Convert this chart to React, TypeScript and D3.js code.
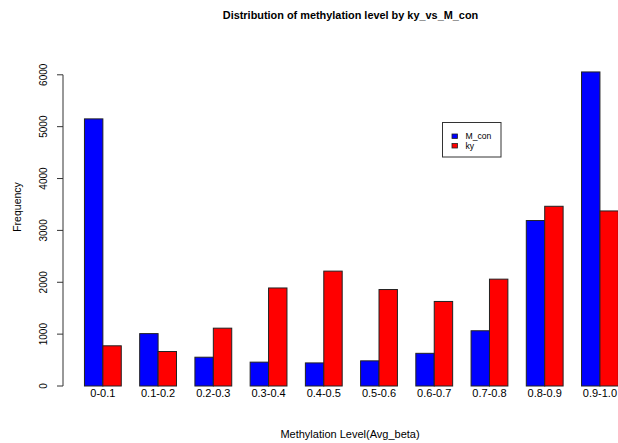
import React from "react";
import * as d3 from "d3";

const categories = ["0-0.1", "0.1-0.2", "0.2-0.3", "0.3-0.4", "0.4-0.5", "0.5-0.6", "0.6-0.7", "0.7-0.8", "0.8-0.9", "0.9-1.0"];
const seriesNames = ["M_con", "ky"];
const mcon = [5150, 1010, 555, 460, 445, 485, 630, 1065, 3190, 6055];
const ky = [775, 665, 1115, 1890, 2215, 1860, 1630, 2060, 3465, 3375];
const yTicks = [0, 1000, 2000, 3000, 4000, 5000, 6000];
const colors = ["#0000FF", "#FF0000"];

const W = 618;
const H = 443;
const FONT = "Liberation Sans, Arial, sans-serif";

export default function App() {
  const x = d3.scaleLinear().domain([-0.16, 31.16]).range([63.1, 639.7]);
  const y = d3.scaleLinear().domain([0, 6000]).range([386, 74.8]);
  const series = [mcon, ky];
  const bw = x(1) - x(0);

  return (
    <svg width={W} height={H} style={{ position: "absolute", left: 0, top: 0, background: "#fff" }}>
      <rect x={0} y={0} width={W} height={H} fill="#fff" />
      <text x={350.5} y={18.5} textAnchor="middle" fontFamily={FONT} fontWeight="bold" fontSize={10.9} fill="#000">
        Distribution of methylation level by ky_vs_M_con
      </text>
      {categories.map((c, i) => (
        <g key={c}>
          {series.map((s, j) => (
            <rect
              key={j}
              x={x(1 + 3 * i + j)}
              y={y(s[i])}
              width={bw}
              height={y(0) - y(s[i])}
              fill={colors[j]}
              stroke="#222"
              strokeWidth={1}
            />
          ))}
          <text x={x(2 + 3 * i)} y={397} textAnchor="middle" fontFamily={FONT} fontSize={11} fill="#000">
            {c}
          </text>
        </g>
      ))}
      <line x1={63} x2={63} y1={y(0)} y2={y(6000)} stroke="#333" strokeWidth={1} />
      {yTicks.map((t) => (
        <g key={t}>
          <line x1={57} x2={63} y1={y(t)} y2={y(t)} stroke="#333" strokeWidth={1} />
          <text
            transform={`translate(47,${y(t)}) rotate(-90)`}
            textAnchor="middle"
            fontFamily={FONT}
            fontSize={10}
            fill="#000"
          >
            {t}
          </text>
        </g>
      ))}
      <text transform={`translate(21,207) rotate(-90)`} textAnchor="middle" fontFamily={FONT} fontSize={10.5} fill="#000">
        Frequency
      </text>
      <text x={350} y={437.5} textAnchor="middle" fontFamily={FONT} fontSize={11} fill="#000">
        Methylation Level(Avg_beta)
      </text>
      <rect x={442.5} y={122.5} width={58.5} height={34.5} fill="#fff" stroke="#333" strokeWidth={1} />
      {seriesNames.map((n, j) => (
        <g key={n}>
          <rect x={452} y={134 + j * 9.5} width={5.5} height={4.5} fill={colors[j]} stroke="#222" strokeWidth={0.8} />
          <text x={465.5} y={139.3 + j * 9.5} fontFamily={FONT} fontSize={8.6} fill="#000">
            {n}
          </text>
        </g>
      ))}
    </svg>
  );
}
